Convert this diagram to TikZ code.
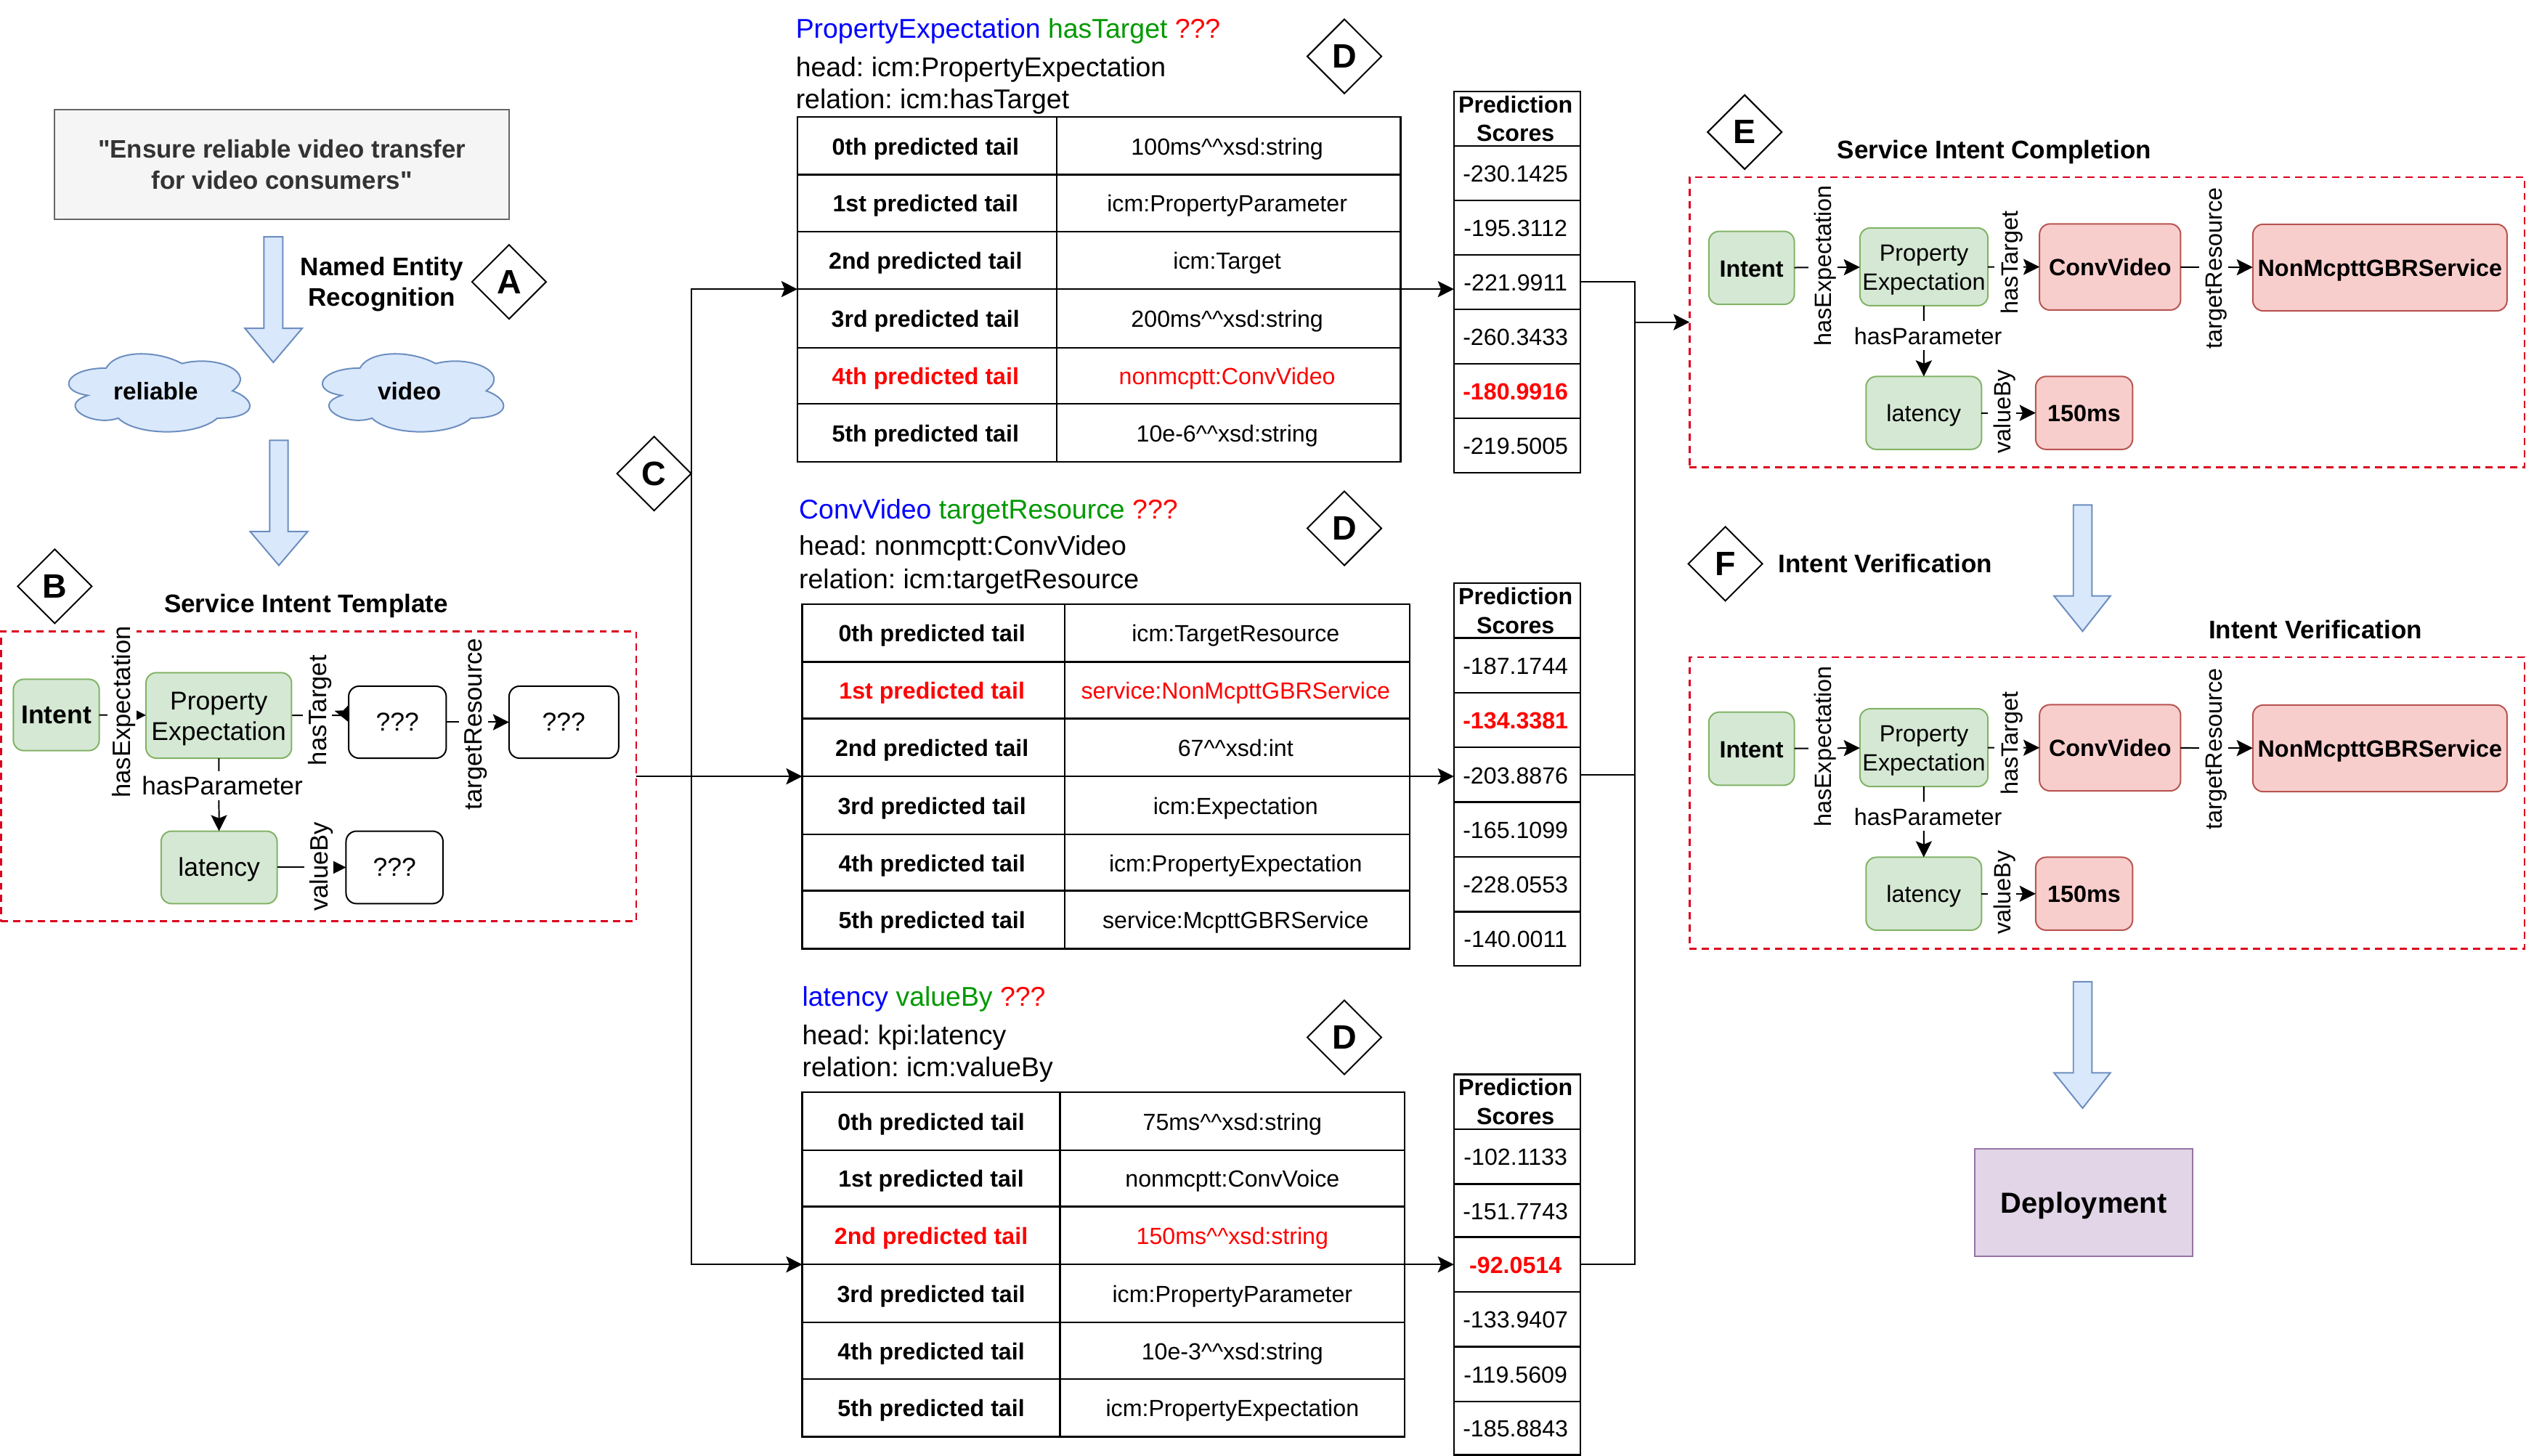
\documentclass[tikz,border=0pt]{standalone}
\usepackage{fontspec}
\setmainfont{Liberation Sans}
\usetikzlibrary{arrows.meta,shapes.geometric,backgrounds}
\definecolor{gfill}{HTML}{D5E8D4}\definecolor{gline}{HTML}{82B366}
\definecolor{rfill}{HTML}{F8CECC}\definecolor{rline}{HTML}{B85450}
\definecolor{bfill}{HTML}{DAE8FC}\definecolor{bline}{HTML}{6C8EBF}
\definecolor{pfill}{HTML}{E1D5E7}\definecolor{pline}{HTML}{9673A6}
\definecolor{qfill}{HTML}{F5F5F5}\definecolor{qline}{HTML}{666666}\definecolor{qtext}{HTML}{333333}
\definecolor{dashred}{HTML}{DC001E}\definecolor{relgreen}{HTML}{009900}
\newcommand\fs[2]{\fontsize{#1}{#2}\selectfont}
\newcommand\cc{\textasciicircum\textasciicircum}
\newcommand\tops[1]{\rule{0pt}{#1}}
\frenchspacing
\tikzset{
  base/.style={inner sep=0pt,outer sep=0pt,align=center},
  one/.style={text height=13pt,text depth=2pt},
  roundbox/.style={base,rounded corners=6.5pt,line width=.9pt},
  green/.style={roundbox,draw=gline,fill=gfill},
  red/.style={roundbox,draw=rline,fill=rfill},
  white/.style={roundbox,draw=black,fill=white},
  dashbox/.style={base,draw=dashred,line width=1.15pt,dash pattern=on 4.4pt off 3.2pt},
  lab/.style={base,one,fill=white,inner sep=1.5pt},
  title/.style={base,one,font=\fs{15.8}{19}\bfseries},
  letter/.style={diamond,aspect=1,draw=black,fill=white,line width=.9pt,inner sep=0pt,outer sep=0pt,minimum width=46pt,minimum height=46pt,font=\fs{21}{24}\bfseries},
  tcell/.style={base,one,draw=black,line width=1.1pt,font=\fs{14.5}{18}},
  headcell/.style={base,draw=black,line width=1.1pt,font=\fs{14.5}{18}\bfseries},
  hline/.style={base,one,anchor=west,font=\fs{16.87}{20}},
  conn/.style={line width=.9pt,-{Stealth[length=10pt,width=10pt,inset=2pt]}},
  plain/.style={line width=.9pt},
  blockarrow/.style={draw=bline,fill=bfill,line width=.9pt,line join=miter},
  cloudshape/.style={draw=bline,fill=bfill,line width=.9pt}
}
\newcommand\bx[7]{%
  \pgfmathsetmacro\cxx{(#2+#4)/2}\pgfmathsetmacro\cyy{(#3+#5)/2}%
  \pgfmathsetmacro\ww{#4-#2}\pgfmathsetmacro\hh{#5-#3}%
  \node[#6,minimum width=\ww pt,minimum height=\hh pt] (#1) at (\cxx,\cyy) {#7};}
\newcommand\barrow[7]{%
  \pgfmathsetmacro\tipx{(#1+#2)/2}%
  \draw[blockarrow] (#1,#5) -- (#2,#5) -- (#2,#6) -- (#4,#6) -- (\tipx,#7) -- (#3,#6) -- (#1,#6) -- cycle;}
\newcommand\cloudat[4]{%
  \begin{scope}[shift={(#2,#3)},x=125.5pt,y=-56.5pt]
    \draw[cloudshape] (.25,.25) .. controls (.05,.25) and (0,.5) .. (.16,.55)
      .. controls (0,.66) and (.18,.9) .. (.31,.8)
      .. controls (.4,1) and (.7,1) .. (.8,.8)
      .. controls (1,.8) and (1,.6) .. (.875,.5)
      .. controls (1,.3) and (.8,.1) .. (.625,.2)
      .. controls (.5,.05) and (.3,.05) .. (.25,.25) -- cycle;
    \node[base,font=\fs{15}{18}\bfseries] (#1) at (.495,.505) {#4};
  \end{scope}}
\def\tk{0pt}
\newcommand\trow[9]{%
  \bx{#1a}{#2}{#5}{#3}{#6}{tcell,#9,font=\fs{14.5}{18}\bfseries}{\hspace*{\tk}#7}%
  \bx{#1b}{#3}{#5}{#4}{#6}{tcell,#9}{\hspace*{\tk}#8}}
\newcommand\srow[5]{\bx{#1}{902.5}{#2}{981}{#3}{tcell,#5}{\hspace*{-2pt}#4}}
\newcommand\intentdiagram[1]{%
  \bx{#1i}{1060.7}{143.6}{1113.8}{189}{green,one,font=\fs{14.6}{18}\bfseries}{Intent}
  \bx{#1p}{1154.5}{141.5}{1234}{189.8}{green,font=\fs{14.6}{18.2}}{\tops{14pt}Property\\Expectation}
  \bx{#1c}{1266}{139}{1353.6}{192.5}{red,one,font=\fs{14.6}{18}\bfseries}{ConvVideo}
  \bx{#1n}{1398.4}{139.2}{1556.2}{193}{red,one,font=\fs{14.6}{18}\bfseries}{NonMcpttGBRService}
  \bx{#1l}{1158.3}{233.7}{1230}{279}{green,one,font=\fs{14.6}{18}}{latency}
  \bx{#1v}{1263.6}{233.7}{1323.8}{279}{red,one,font=\fs{14.6}{18}\bfseries}{150ms}
  \draw[conn] (#1i) -- (#1p);
  \draw[conn] (#1p) -- (#1c);
  \draw[conn] (#1c) -- (#1n);
  \draw[conn] (#1p) -- (#1l);
  \draw[conn] (#1l) -- (#1v);
  \node[lab,font=\fs{14.6}{18},rotate=90] (#1t1) at (1131.4,165) {hasExpectation};
  \node[lab,font=\fs{14.6}{18},rotate=90] (#1t2) at (1247,163) {hasTarget};
  \node[lab,font=\fs{14.6}{18},rotate=90] (#1t3) at (1374,166.5) {targetResource};
  \node[lab,font=\fs{14.6}{18}] (#1t4) at (1196.8,208.3) {hasParameter};
  \node[lab,font=\fs{14.6}{18},rotate=90] (#1t5) at (1242.7,255.5) {valueBy};
}
\begin{document}
\begin{tikzpicture}[x=1pt,y=-1pt]
\useasboundingbox (0,0) rectangle (1568,903.9);
\bx{quote}{34}{68}{316}{136}{base,draw=qline,fill=qfill,line width=.9pt,text=qtext,font=\fs{15.7}{19.5}\bfseries}{\textquotedbl Ensure reliable video transfer\\for video consumers\textquotedbl}
\barrow{163.8}{175.5}{152}{187.6}{147}{203.8}{225}
\node[base,font=\fs{15.8}{19}\bfseries] (ner) at (237,176.5) {Named Entity\\Recognition};
\node[letter] (A) at (316,175) {A};
\cloudat{c1}{34.5}{214.4}{reliable}
\cloudat{c2}{192}{214.4}{video}
\barrow{167.4}{178.8}{155.3}{191}{273.4}{330}{351}
\node[letter] (B) at (34,364) {B};
\node[title] (tplt) at (190,375) {Service Intent Template};
\bx{tpl}{.6}{392}{395}{572}{dashbox}{}
\bx{ti}{8.3}{421.7}{61.6}{466}{green,one,font=\fs{16}{19}\bfseries}{Intent}
\bx{tp}{90.6}{417.6}{181}{470.7}{green,font=\fs{16}{19}}{\tops{15.5pt}Property\\Expectation}
\bx{tq1}{216.4}{426}{277}{470.7}{white,one,font=\fs{16}{19}}{???}
\bx{tq2}{316}{426}{384}{470.7}{white,one,font=\fs{16}{19}}{???}
\bx{tl}{100}{516}{172}{561}{green,one,font=\fs{16}{19}}{latency}
\bx{tq3}{214.8}{516}{275}{561}{white,one,font=\fs{16}{19}}{???}
\draw[conn] (ti) -- (tp);
\begin{pgfonlayer}{background}
\draw[conn] (tp.east) -- ++(33.5,0) -- (tq1.west);
\end{pgfonlayer}
\draw[conn] (tq1) -- (tq2);
\draw[conn] (tp) -- (tl);
\draw[conn] (tl) -- (tq3);
\node[lab,font=\fs{15.6}{18},rotate=90] (tt1) at (75.6,442) {hasExpectation};
\node[lab,font=\fs{15.6}{18},rotate=90] (tt2) at (197,441) {hasTarget};
\node[lab,font=\fs{15.6}{18},rotate=90] (tt3) at (293.8,449.5) {targetResource};
\node[lab,font=\fs{15.9}{18}] (tt4) at (138,488) {hasParameter};
\node[lab,font=\fs{15.6}{18},rotate=90] (tt5) at (198,538) {valueBy};
\node[hline] (h1a) at (494,18) {\textcolor{blue}{PropertyExpectation} \textcolor{relgreen}{hasTarget} \textcolor{red}{???}};
\node[hline] (h1b) at (494,42) {head: icm:PropertyExpectation};
\node[hline] (h1c) at (494,62) {relation: icm:hasTarget};
\node[hline] (h2a) at (496,316.5) {\textcolor{blue}{ConvVideo} \textcolor{relgreen}{targetResource} \textcolor{red}{???}};
\node[hline] (h2b) at (496,339) {head: nonmcptt:ConvVideo};
\node[hline] (h2c) at (496,360) {relation: icm:targetResource};
\node[hline] (h3a) at (498,619) {\textcolor{blue}{latency} \textcolor{relgreen}{valueBy} \textcolor{red}{???}};
\node[hline] (h3b) at (498,643) {head: kpi:latency};
\node[hline] (h3c) at (498,663) {relation: icm:valueBy};
\def\tk{-2pt}
\trow{ar0}{495}{656}{869.5}{72.7}{108.5}{0th predicted tail}{100ms\cc xsd:string}{}
\trow{ar1}{495}{656}{869.5}{108.5}{143.7}{1st predicted tail}{icm:PropertyParameter}{}
\trow{ar2}{495}{656}{869.5}{143.7}{179.5}{2nd predicted tail}{icm:Target}{}
\trow{ar3}{495}{656}{869.5}{179.5}{215.9}{3rd predicted tail}{200ms\cc xsd:string}{}
\trow{ar4}{495}{656}{869.5}{215.9}{250.7}{4th predicted tail}{nonmcptt:ConvVideo}{text=red}
\trow{ar5}{495}{656}{869.5}{250.7}{286.8}{5th predicted tail}{10e-6\cc xsd:string}{}
\trow{br0}{498}{661}{875}{375}{411}{0th predicted tail}{icm:TargetResource}{}
\trow{br1}{498}{661}{875}{411}{446}{1st predicted tail}{service:NonMcpttGBRService}{text=red}
\trow{br2}{498}{661}{875}{446}{482}{2nd predicted tail}{67\cc xsd:int}{}
\trow{br3}{498}{661}{875}{482}{518}{3rd predicted tail}{icm:Expectation}{}
\trow{br4}{498}{661}{875}{518}{553}{4th predicted tail}{icm:PropertyExpectation}{}
\trow{br5}{498}{661}{875}{553}{589}{5th predicted tail}{service:McpttGBRService}{}
\def\tk{0pt}
\trow{cr0}{498}{658}{872}{678}{714}{0th predicted tail}{75ms\cc xsd:string}{}
\trow{cr1}{498}{658}{872}{714}{749}{1st predicted tail}{nonmcptt:ConvVoice}{}
\trow{cr2}{498}{658}{872}{749}{785}{2nd predicted tail}{150ms\cc xsd:string}{text=red}
\trow{cr3}{498}{658}{872}{785}{821}{3rd predicted tail}{icm:PropertyParameter}{}
\trow{cr4}{498}{658}{872}{821}{856}{4th predicted tail}{10e-3\cc xsd:string}{}
\trow{cr5}{498}{658}{872}{856}{892}{5th predicted tail}{icm:PropertyExpectation}{}
\bx{ash}{902.5}{56.7}{981}{90.7}{headcell}{\hspace*{-2pt}Prediction\\\hspace*{-2pt}Scores}
\srow{as0}{90.7}{124.4}{-230.1425}{}
\srow{as1}{124.4}{158.2}{-195.3112}{}
\srow{as2}{158.2}{192}{-221.9911}{}
\srow{as3}{192}{225.9}{-260.3433}{}
\srow{as4}{225.9}{259.7}{-180.9916}{text=red,font=\fs{14.5}{18}\bfseries}
\srow{as5}{259.7}{293.6}{-219.5005}{}
\bx{bsh}{902.5}{362}{981}{396}{headcell}{\hspace*{-2pt}Prediction\\\hspace*{-2pt}Scores}
\srow{bs0}{396}{430}{-187.1744}{}
\srow{bs1}{430}{464}{-134.3381}{text=red,font=\fs{14.5}{18}\bfseries}
\srow{bs2}{464}{498}{-203.8876}{}
\srow{bs3}{498}{532}{-165.1099}{}
\srow{bs4}{532}{566}{-228.0553}{}
\srow{bs5}{566}{599.5}{-140.0011}{}
\bx{csh}{902.5}{667}{981}{701}{headcell}{\hspace*{-2pt}Prediction\\\hspace*{-2pt}Scores}
\srow{cs0}{701}{735}{-102.1133}{}
\srow{cs1}{735}{768}{-151.7743}{}
\srow{cs2}{768}{802}{-92.0514}{text=red,font=\fs{14.5}{18}\bfseries}
\srow{cs3}{802}{836}{-133.9407}{}
\srow{cs4}{836}{870}{-119.5609}{}
\srow{cs5}{870}{903.2}{-185.8843}{}
\node[letter] (C) at (406,294) {C};
\coordinate (ain) at (ar3a.north west);
\coordinate (bin) at (br3a.north west);
\coordinate (cin) at (cr3a.north west);
\draw[conn] (C.east) |- (ain);
\draw[conn] (tpl.east) -- (bin);
\draw[conn] (C.east) |- (cin);
\draw[conn] (ar3b.north east) -- (ar3b.north east -| as2.west);
\draw[conn] (br3b.north east) -- (br3b.north east -| bs2.west);
\draw[conn] (cr3b.north east) -- (cr3b.north east -| cs2.west);
\node[letter] (D1) at (834.5,35) {D};
\node[letter] (D2) at (834.5,328) {D};
\node[letter] (D3) at (834.5,644) {D};
\node[letter] (E) at (1083,82) {E};
\node[title] (et) at (1238,93) {Service Intent Completion};
\bx{ebox}{1048.8}{110}{1567}{290}{dashbox}{}
\intentdiagram{e}
\coordinate (jo) at (1015,200);
\draw[plain] (as2.east) -| (jo);
\draw[plain] (bs2.east) -| (jo);
\draw[plain] (cs2.east) -| (jo);
\draw[conn] (jo) -- (ebox.west);
\barrow{1287}{1298.5}{1275}{1310}{313.5}{370}{391.9}
\node[letter] (F) at (1071,350) {F};
\node[title,anchor=west] (ft) at (1104,350) {Intent Verification};
\node[title,anchor=west] (vt) at (1371,391) {Intent Verification};
\bx{fbox}{1048.8}{408}{1567}{589}{dashbox}{}
\begin{scope}[yshift=-298.5pt]
\intentdiagram{f}
\end{scope}
\barrow{1287}{1298.5}{1275}{1310}{609.5}{666}{688}
\bx{dep}{1226}{713}{1361}{780}{base,text height=15pt,text depth=2pt,draw=pline,fill=pfill,line width=.9pt,font=\fs{18}{22}\bfseries}{Deployment}
\end{tikzpicture}
\end{document}
